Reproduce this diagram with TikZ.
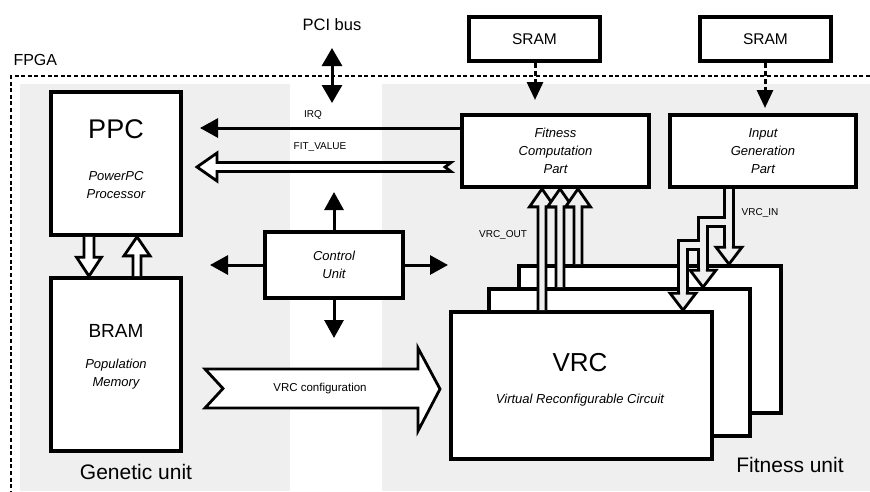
\documentclass[tikz,border=0pt]{standalone}
\usepackage{fontspec}
\setmainfont{Liberation Sans}
\usetikzlibrary{arrows.meta,calc}
\definecolor{bgc}{HTML}{EFEFEF}
\newcommand\fsz[2]{\fontsize{#1}{#2}\selectfont}
\newcommand\harrow[6][]{%
  \coordinate (hb) at ($(#3)!#6!(#2)$);
  \filldraw[harr,#1] ($(#2)!#4!90:(#3)$) -- ($(hb)!#4!90:(#3)$) -- ($(hb)!#5!90:(#3)$) -- (#3) -- ($(hb)!#5!-90:(#3)$) -- ($(hb)!#4!-90:(#3)$) -- ($(#2)!#4!-90:(#3)$);%
}
\newcommand\dhead[1]{%
  \filldraw[harr,fill=bgc,line cap=rect] ($(#1)+(-4.2,-17)$) -- ($(#1)+(-13,-17)$) -- (#1) -- ($(#1)+(13,-17)$) -- ($(#1)+(4.2,-17)$);%
}
\tikzset{
 box/.style={draw, line width=3.7pt, fill=white, inner sep=0pt, outer sep=1.85pt},
 harr/.style={draw=black, fill=white, line width=2.8pt, line join=miter},
 sarr/.style={line width=3pt, arrows={-Triangle[length=18pt,width=19pt]}},
 darr/.style={line width=3pt, dash pattern=on 5pt off 3pt, arrows={-Triangle[length=18pt,width=16pt]}},
 pciarr/.style={line width=3pt, arrows={Triangle[length=18pt,width=20pt]-Triangle[length=18pt,width=20pt]}},
 fpgaline/.style={line width=1.6pt, dash pattern=on 4pt off 2.6pt},
 subt/.style={font={\fsz{13}{18}\itshape}, align=center},
 lbl/.style={font={\fsz{10}{12}}},
}
\begin{document}
\begin{tikzpicture}[x=1pt,y=-1pt]
\useasboundingbox (0,0) rectangle (870,491);
\fill[white] (0,0) rectangle (870,491);
\fill[bgc] (20,84) rectangle (290,491);
\fill[bgc] (382,84) rectangle (870,491);
\draw[fpgaline] (870,76) -- (11,76) -- (11,491);
\node[anchor=west, font={\fsz{16}{19}}] (fpga) at (10,60) {FPGA};
\node[font={\fsz{16.5}{20}}] (pci) at (332,25) {PCI bus};
\coordinate (pcia) at (332,48);
\coordinate (pcib) at (332,103);
\draw[pciarr] (pcia) -- (pcib);

% Genetic unit
\node[box, minimum width=130pt, minimum height=143pt] (ppc) at (116,163.5) {};
\node[font={\fsz{27}{30}}] (ppct) at (116,129) {PPC};
\node[subt] (ppcs) at (116,185) {PowerPC\\Processor};
\node[box, minimum width=130pt, minimum height=173pt] (bram) at (116,364.5) {};
\node[font={\fsz{19}{22}}] (bramt) at (116,331) {BRAM};
\node[subt] (brams) at (116,374) {Population\\Memory};
\harrow{ppc.south -| 89,0}{bram.north -| 89,0}{5pt}{12.5pt}{19pt}
\harrow{bram.north -| 137,0}{ppc.south -| 137,0}{4pt}{13pt}{19pt}
\node[font={\fsz{21}{24}}] (gen) at (136,472) {Genetic unit};

% Control unit
\node[box, subt, minimum width=138pt, minimum height=66pt] (ctrl) at (334,265) {Control\\Unit};
\coordinate (cu) at (334,192);
\coordinate (cl) at (210,265);
\coordinate (cr) at (448,265);
\coordinate (cd) at (334,338);
\draw[sarr] (ctrl.north) -- (cu);
\draw[sarr] (ctrl.west) -- (cl);
\draw[sarr] (ctrl.east) -- (cr);
\draw[sarr] (ctrl.south) -- (cd);

% SRAMs and fitness parts
\node[box, font={\fsz{15.5}{18}}, minimum width=131pt, minimum height=44pt] (sram1) at (534.5,39) {SRAM};
\node[box, font={\fsz{15.5}{18}}, minimum width=131pt, minimum height=44pt] (sram2) at (765.5,39) {SRAM};
\node[box, subt, minimum width=187pt, minimum height=72pt] (fcp) at (555.5,151) {Fitness\\Computation\\Part};
\node[box, subt, minimum width=186pt, minimum height=72pt] (igp) at (763,151) {Input\\Generation\\Part};
\coordinate (s1t) at (535,100);
\coordinate (s2t) at (765,108);
\draw[darr] (sram1.south -| s1t) -- (s1t);
\draw[darr] (sram2.south -| s2t) -- (s2t);

% IRQ and FIT_VALUE
\coordinate (irq) at (200,128);
\draw[sarr] (fcp.west |- irq) -- (irq);
\node[lbl] (irql) at (313,115) {IRQ};
\coordinate (fitv) at (197,167);
\filldraw[harr] (451,162.5) -- (217,162.5) -- (217,153) -- (fitv) -- (217,181) -- (217,171.5) -- (451,171.5) -- (445,167) -- cycle;
\node[lbl] (fitl) at (320,147) {FIT\_VALUE};

% VRC configuration
\coordinate (cfgtip) at (440,389);
\filldraw[harr] (205,369) -- (418,369) -- (418,348) -- (cfgtip) -- (418,431) -- (418,408) -- (205,408) -- (223,388.5) -- cycle;
\node[font={\fsz{11.5}{13}}] (cfgl) at (320,389) {VRC configuration};

% VRC stack
\node[box, minimum width=262pt, minimum height=147pt] (vrc3) at (650,339.5) {};
\node[box, minimum width=261pt, minimum height=147pt] (vrc2) at (619.5,362.5) {};
\node[box, minimum width=261pt, minimum height=147pt] (vrc1) at (581.5,385.5) {};
\node[font={\fsz{26}{30}}] (vrct) at (580,363) {VRC};
\node[font={\fsz{13}{16}\itshape}] (vrcs) at (580,400) {Virtual Reconfigurable Circuit};

% VRC_OUT
\harrow[fill=bgc]{vrc1.north -| 542,0}{fcp.south -| 542,0}{4pt}{12.5pt}{18pt}
\harrow[fill=bgc]{vrc2.north -| 560,0}{fcp.south -| 560,0}{4pt}{12.5pt}{18pt}
\harrow[fill=bgc]{vrc3.north -| 578,0}{fcp.south -| 578,0}{4pt}{12.5pt}{18pt}
\node[lbl] (outl) at (503,235) {VRC\_OUT};

% VRC_IN
\coordinate (in1) at (vrc3.north -| 729,0);
\coordinate (in2) at (vrc2.north -| 703,0);
\coordinate (in3) at (vrc1.north -| 683,0);
\draw[line width=11.2pt, line join=miter] (igp.south -| 729,0) -- ($(in1)+(0,-17)$) (729,222) -- (703,222) -- ($(in2)+(0,-17)$) (703,245) -- (683,245) -- ($(in3)+(0,-17)$);
\draw[line width=5.6pt, line join=miter, bgc] (igp.south -| 729,0) -- ($(in1)+(0,-17)$) (729,222) -- (703,222) -- ($(in2)+(0,-17)$) (703,245) -- (683,245) -- ($(in3)+(0,-17)$);
\dhead{in1}
\dhead{in2}
\dhead{in3}
\node[lbl] (inl) at (760,213) {VRC\_IN};

\node[font={\fsz{21}{24}}] (fitu) at (790,465) {Fitness unit};
\end{tikzpicture}
\end{document}
